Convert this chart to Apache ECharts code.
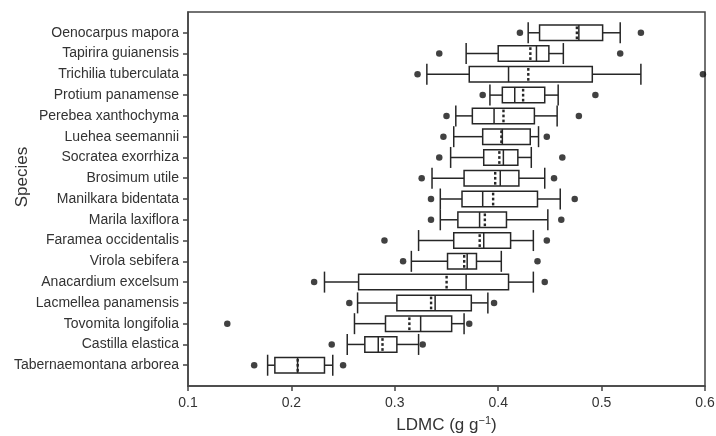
<!DOCTYPE html>
<html>
<head>
<meta charset="utf-8">
<script src="https://cdn.jsdelivr.net/npm/echarts@6/dist/echarts.min.js"></script>
<style>html,body{margin:0;padding:0;background:#fff}#c{width:716px;height:436px}</style>
</head>
<body>
<div id="c"></div>
<script>
// Species listed top to bottom
var species = ['Oenocarpus mapora','Tapirira guianensis','Trichilia tuberculata','Protium panamense','Perebea xanthochyma','Luehea seemannii','Socratea exorrhiza','Brosimum utile','Manilkara bidentata','Marila laxiflora','Faramea occidentalis','Virola sebifera','Anacardium excelsum','Lacmellea panamensis','Tovomita longifolia','Castilla elastica','Tabernaemontana arborea'];
var whiskerLow  = [0.429,0.369,0.331,0.392,0.359,0.357,0.354,0.336,0.344,0.344,0.323,0.316,0.232,0.264,0.261,0.254,0.177];
var q1          = [0.440,0.400,0.372,0.404,0.375,0.385,0.386,0.367,0.365,0.361,0.357,0.351,0.265,0.302,0.291,0.271,0.184];
var median      = [0.478,0.437,0.410,0.416,0.396,0.404,0.405,0.402,0.385,0.382,0.386,0.370,0.369,0.339,0.325,0.284,0.206];
var q3          = [0.501,0.449,0.491,0.445,0.435,0.431,0.419,0.420,0.438,0.408,0.412,0.379,0.410,0.374,0.355,0.302,0.232];
var whiskerHigh = [0.518,0.463,0.538,0.458,0.457,0.439,0.432,0.445,0.460,0.448,0.434,0.403,0.434,0.390,0.367,0.323,0.240];
var meanVal     = [0.476,0.431,0.429,0.424,0.405,0.403,0.401,0.397,0.395,0.387,0.382,0.367,0.350,0.335,0.314,0.288,0.206];
var dotLow      = [0.421,0.343,0.322,0.385,0.350,0.347,0.343,0.326,0.335,0.335,0.290,0.308,0.222,0.256,0.138,0.239,0.164];
var dotHigh     = [0.538,0.518,0.598,0.494,0.478,0.447,0.462,0.454,0.474,0.461,0.447,0.438,0.445,0.396,0.372,0.327,0.250];
var xTicks = [0.1,0.2,0.3,0.4,0.5,0.6];

var cats = [''].concat(species).concat(['']);
var boxData = species.map(function(s,i){
  return [i+1, whiskerLow[i], q1[i], median[i], q3[i], whiskerHigh[i], meanVal[i]];
});
var dotData = [];
species.forEach(function(s,i){ dotData.push([dotLow[i], i+1]); dotData.push([dotHigh[i], i+1]); });

var ink = '#262626';
function renderBox(params, api){
  var y = api.value(0);
  var pLo = api.coord([api.value(1), y]);
  var pQ1 = api.coord([api.value(2), y]);
  var pMed = api.coord([api.value(3), y]);
  var pQ3 = api.coord([api.value(4), y]);
  var pHi = api.coord([api.value(5), y]);
  var pMean = api.coord([api.value(6), y]);
  var cy = pQ1[1];
  var bh = 15.5, ch = 10.5;
  var st = {stroke: ink, lineWidth: 1.5, fill: null};
  var children = [
    {type:'line', shape:{x1:pLo[0], y1:cy, x2:pQ1[0], y2:cy}, style:st},
    {type:'line', shape:{x1:pQ3[0], y1:cy, x2:pHi[0], y2:cy}, style:st},
    {type:'line', shape:{x1:pLo[0], y1:cy-ch, x2:pLo[0], y2:cy+ch}, style:st},
    {type:'line', shape:{x1:pHi[0], y1:cy-ch, x2:pHi[0], y2:cy+ch}, style:st},
    {type:'rect', shape:{x:pQ1[0], y:cy-bh/2, width:pQ3[0]-pQ1[0], height:bh}, style:{stroke:ink, lineWidth:1.5, fill:'#fff'}},
    {type:'line', shape:{x1:pMed[0], y1:cy-bh/2, x2:pMed[0], y2:cy+bh/2}, style:st}
  ];
  [-5,0,5].forEach(function(o){
    children.push({type:'rect', shape:{x:pMean[0]-1.1, y:cy+o-1.3, width:2.4, height:2.7}, style:{fill:ink}});
  });
  return {type:'group', children: children};
}

var chart = echarts.init(document.getElementById('c'), null, {renderer:'canvas'});
chart.setOption({
  animation:false,
  backgroundColor:'#fff',
  grid:{left:188, right:11, top:12, bottom:50, containLabel:false, outerBoundsMode:'none',
    show:true, borderColor:'#444', borderWidth:1.5},
  xAxis:{
    type:'value', min:0.1, max:0.6, interval:0.1,
    axisLine:{show:true, lineStyle:{color:'#444', width:1.5}},
    axisTick:{show:true, length:5, lineStyle:{color:'#444', width:1.5}},
    splitLine:{show:false},
    axisLabel:{color:'#333', fontSize:14, fontFamily:'Liberation Sans, Arial', margin:10,
      formatter:function(v){ for (var k=0;k<xTicks.length;k++){ if (Math.abs(v-xTicks[k])<1e-6) return xTicks[k].toFixed(1);} return ''; }},
    name:'LDMC (g g{sup|−1})', nameLocation:'middle', nameGap:29,
    nameTextStyle:{color:'#333', fontSize:17, fontFamily:'Liberation Sans, Arial',
      rich:{sup:{fontSize:11, color:'#333', fontFamily:'Liberation Sans, Arial', padding:[0,0,9,0]}}}
  },
  yAxis:{
    type:'category', data:cats, inverse:true, boundaryGap:false,
    axisLine:{show:true, lineStyle:{color:'#444', width:1.5}},
    axisTick:{show:true, length:5, alignWithLabel:true, lineStyle:{color:'#444', width:1.5},
      interval:function(i,v){ return v !== ''; }},
    axisLabel:{color:'#333', fontSize:14, fontFamily:'Liberation Sans, Arial', margin:9,
      interval:function(i,v){ return v !== ''; }},
    splitLine:{show:false}
  },
  graphic:[{type:'text', rotation:Math.PI/2, x:22, y:177,
    style:{text:'Species', fill:'#333', font:'17px "Liberation Sans", Arial', textAlign:'center', textVerticalAlign:'middle'}}],
  series:[
    {type:'custom', renderItem:renderBox, data:boxData, encode:{x:[1,2,3,4,5,6], y:0}, z:2},
    {type:'scatter', data:dotData, symbol:'circle', symbolSize:6.5, itemStyle:{color:'#111'}, z:3, clip:false}
  ]
});
</script>
</body>
</html>
